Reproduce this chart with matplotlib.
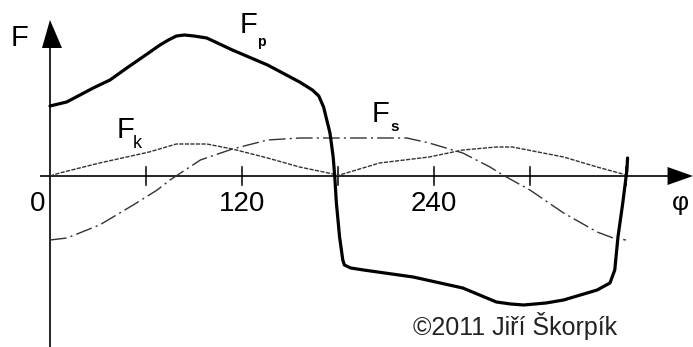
import matplotlib
matplotlib.use("Agg")
import matplotlib.pyplot as plt

plt.rcParams["font.family"] = ["Liberation Sans", "DejaVu Sans"]

# crank angle phi (deg) and force F (arbitrary units), piston force
fp_phi = [0, 10.4, 18.75, 27, 37.5, 48, 58, 68.75, 74, 79, 84, 90, 98, 114, 136,
          156, 164, 168, 171, 175, 177, 178, 179, 181, 183, 184, 188, 196, 227,
          258, 279, 288, 296, 310, 321, 342, 350, 353, 355, 358, 360.6, 361]
fp_val = [70, 74, 81, 88, 96, 108, 119, 131, 136, 140, 141, 140, 138, 126, 111,
          94, 86, 80, 69, 43, 19, -1, -27, -61, -84, -89, -92, -94, -101,
          -112, -126, -128, -129, -127, -124, -114, -107, -94, -61, -27, 6, 18]

# force F_k
fk_phi = [0, 6, 31, 62, 79, 98, 114, 136, 156, 177, 178,
          181, 206, 237, 258, 279, 289, 321, 342, 358, 360]
fk_val = [0, 3, 13, 24, 32, 32, 27, 18, 9, 2, 0,
          1, 13, 19, 26, 29, 29, 19, 9, 2, 0]

# force F_s
fs_phi = [0, 10.6, 31, 52, 67, 75, 94, 114, 136, 156, 186, 223, 237, 258, 275,
          283, 300, 321, 342, 352, 360]
fs_val = [-64, -62, -49, -29, -14, -4, 16, 27, 36, 38, 38, 38, 33, 23, 9,
          1, -14, -37, -56, -62, -64]

tick_phi = [60, 120, 180, 240, 300, 360]
tick_labels = {0: "0", 120: "120", 240: "240"}

fig = plt.figure(figsize=(6.93, 3.47), dpi=100)
ax = fig.add_axes([0, 0, 1, 1])
ax.set_xlim(-31.25, 401.9)
ax.set_ylim(-171, 176)
ax.axis("off")

# 1 px in data units
px_x = 1 / 1.6

# axes with arrow heads
ax.plot([-6.25, 386], [0, 0], color="black", lw=1.2, solid_capstyle="butt")
ax.plot([0, 0], [-171, 130], color="black", lw=1.2, solid_capstyle="butt")
ax.fill([386, 401.9, 386], [9, 0, -9], color="black", lw=0)
ax.fill([-8 * px_x, 0, 12 * px_x], [128, 156, 128], color="black", lw=0)
for t in tick_phi:
    ax.plot([t, t], [9, -9], color="black", lw=1.1)

ax.plot(fk_phi, fk_val, color="#333333", lw=1.0, dashes=(3, 1))
ax.plot(fs_phi, fs_val, color="#333333", lw=1.0, dashes=(12, 3, 1.5, 3))
ax.plot(fp_phi, fp_val, color="black", lw=2.3, solid_joinstyle="round",
        solid_capstyle="round")

# labels
ax.text(-19, 138, "F", fontsize=21, ha="center", va="center")
ax.text(118.75, 143, "F", fontsize=21, ha="left", va="baseline")
ax.text(129.5, 130, "p", fontsize=10, ha="left", va="baseline", fontweight="bold")
ax.text(41.9, 38, "F", fontsize=21, ha="left", va="baseline")
ax.text(52, 28, "k", fontsize=13, ha="left", va="baseline")
ax.text(201, 54, "F", fontsize=21, ha="left", va="baseline")
ax.text(213, 45, "s", fontsize=11, ha="left", va="baseline", fontweight="bold")

for t, s in tick_labels.items():
    x = t if t else -8
    ax.text(x, -35, s, fontsize=20, ha="center", va="baseline")
ax.text(394, -34, "φ", fontsize=19, ha="center", va="baseline")

ax.text(290.6, -159, "©2011 Jiří Škorpík", fontsize=18, ha="center",
        va="baseline", color="#222222")

fig.savefig("out.png", dpi=100)
